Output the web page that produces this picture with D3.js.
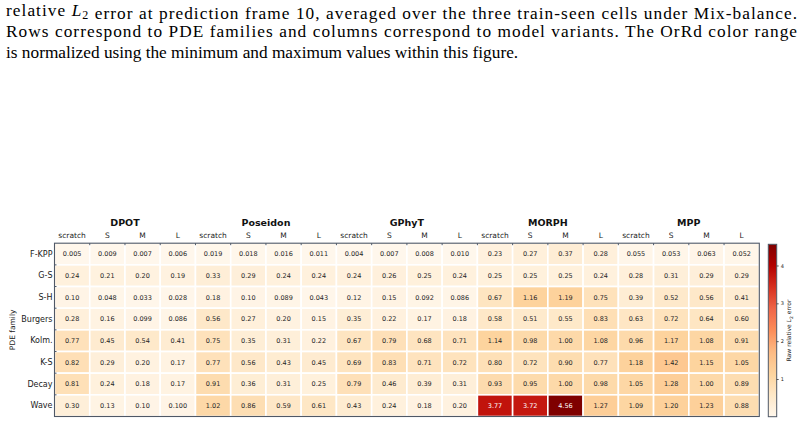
<!DOCTYPE html>
<html><head><meta charset="utf-8">
<script src="https://cdn.jsdelivr.net/npm/d3@7"></script>
<style>body{margin:0;background:#fff}svg{display:block}</style>
</head><body>
<svg id="c" width="804" height="423"></svg>
<script>
const groups = ["DPOT","Poseidon","GPhyT","MORPH","MPP"];
const variants = ["scratch","S","M","L"];
const rows = ["F-KPP","G-S","S-H","Burgers","Kolm.","K-S","Decay","Wave"];
const dpot = [[0.005,0.009,0.007,0.006],[0.24,0.21,0.20,0.19],[0.10,0.048,0.033,0.028],[0.28,0.16,0.099,0.086],[0.77,0.45,0.54,0.41],[0.82,0.29,0.20,0.17],[0.81,0.24,0.18,0.17],[0.30,0.13,0.10,0.0998]];
const poseidon = [[0.019,0.018,0.016,0.011],[0.33,0.29,0.24,0.24],[0.18,0.10,0.089,0.043],[0.56,0.27,0.20,0.15],[0.75,0.35,0.31,0.22],[0.77,0.56,0.43,0.45],[0.91,0.36,0.31,0.25],[1.02,0.86,0.59,0.61]];
const gphyt = [[0.004,0.007,0.008,0.010],[0.24,0.26,0.25,0.24],[0.12,0.15,0.092,0.086],[0.35,0.22,0.17,0.18],[0.67,0.79,0.68,0.71],[0.69,0.83,0.71,0.72],[0.79,0.46,0.39,0.31],[0.43,0.24,0.18,0.20]];
const morph = [[0.23,0.27,0.37,0.28],[0.25,0.25,0.25,0.24],[0.67,1.16,1.19,0.75],[0.58,0.51,0.55,0.83],[1.14,0.98,1.00,1.08],[0.80,0.72,0.90,0.77],[0.93,0.95,1.00,0.98],[3.77,3.72,4.56,1.27]];
const mpp = [[0.055,0.053,0.063,0.052],[0.28,0.31,0.29,0.29],[0.39,0.52,0.56,0.41],[0.63,0.72,0.64,0.60],[0.96,1.17,1.08,0.91],[1.18,1.42,1.15,1.05],[1.05,1.28,1.00,0.89],[1.09,1.20,1.23,0.88]];
const cbTicks = [1,2,3,4];
const captionLines = [
  ["relative ", {i:"L"}, {s:"2"}, " error at prediction frame 10, averaged over the three train-seen cells under Mix-balance."],
  ["Rows correspond to PDE families and columns correspond to model variants. The OrRd color range"],
  ["is normalized using the minimum and maximum values within this figure."]
];

const blocks = [dpot, poseidon, gphyt, morph, mpp];
const cols = [];
groups.forEach(g => variants.forEach(v => cols.push(g + "|" + v)));
const cells = [];
rows.forEach((r, ri) => {
  blocks.forEach((b, gi) => {
    b[ri].forEach((val, vi) => cells.push({row: r, col: groups[gi] + "|" + variants[vi], v: val}));
  });
});
const allVals = cells.map(d => d.v);
const vmin = d3.min(allVals), vmax = d3.max(allVals);

const svg = d3.select("#c");
// caption
const cap = svg.append("g").attr("font-family", "'Liberation Serif','Times New Roman',serif").attr("font-size", 17.3).attr("fill", "#000");
const baselines = [16, 37, 57.5];
captionLines.forEach((parts, li) => {
  const t = cap.append("text").attr("x", 6).attr("y", baselines[li]);
  if (li < 2) t.attr("textLength", 791).attr("lengthAdjust", "spacing");
  parts.forEach(p => {
    if (typeof p === "string") t.append("tspan").text(p);
    else if (p.i) t.append("tspan").attr("font-style", "italic").text(p.i);
    else if (p.s) { t.append("tspan").attr("font-size", 12).attr("dy", 3).text(p.s); t.append("tspan").attr("dy", -3).text(""); }
  });
});

const X0 = 54.5, X1 = 759.3, Y0 = 243.2, Y1 = 416.5;
const x = d3.scaleBand().domain(cols).range([X0, X1]);
const y = d3.scaleBand().domain(rows).range([Y0, Y1]);
const stops = ["#fff7ec","#fee8c8","#fdd49e","#fdbb84","#fc8d59","#ef6548","#d7301f","#b30000","#7f0000"];
const color = d3.scaleLinear().domain(stops.map((_, i) => vmin + (vmax - vmin) * i / (stops.length - 1))).range(stops).interpolate(d3.interpolateRgb).clamp(true);
const fmt = v => v < 0.1 ? v.toFixed(3) : v.toFixed(2);

const font = "'DejaVu Sans', sans-serif";
const g = svg.append("g").attr("font-family", font);
g.selectAll("rect.cell").data(cells).join("rect").attr("class", "cell")
  .attr("x", d => x(d.col)).attr("y", d => y(d.row))
  .attr("width", x.bandwidth()).attr("height", y.bandwidth())
  .attr("fill", d => color(d.v)).attr("stroke", "#fff").attr("stroke-width", 1.6);
g.selectAll("text.val").data(cells).join("text").attr("class", "val")
  .attr("x", d => x(d.col) + x.bandwidth() / 2).attr("y", d => y(d.row) + y.bandwidth() / 2)
  .attr("dy", "0.35em").attr("text-anchor", "middle").attr("font-size", 6.5)
  .attr("fill", d => (d.v - vmin) / (vmax - vmin) > 0.6 ? "#fff" : "#262626")
  .text(d => fmt(d.v));
// frame
g.append("rect").attr("x", X0).attr("y", Y0).attr("width", X1 - X0).attr("height", Y1 - Y0)
  .attr("fill", "none").attr("stroke", "#4f5866").attr("stroke-width", 1.1);
// boundary ticks
g.selectAll("line.tt").data(cols.slice(1)).join("line").attr("class", "tt")
  .attr("x1", d => x(d)).attr("x2", d => x(d)).attr("y1", Y0).attr("y2", Y0 + 2)
  .attr("stroke", "#4f5866").attr("stroke-width", 1);
g.selectAll("line.lt").data(rows.slice(1)).join("line").attr("class", "lt")
  .attr("y1", d => y(d)).attr("y2", d => y(d)).attr("x1", X0).attr("x2", X0 + 2)
  .attr("stroke", "#4f5866").attr("stroke-width", 1);
// column labels
g.selectAll("text.cl").data(cols).join("text").attr("class", "cl")
  .attr("x", d => x(d) + x.bandwidth() / 2).attr("y", 238).attr("text-anchor", "middle")
  .attr("font-size", 7.5).attr("fill", "#222").text(d => d.split("|")[1]);
// group labels
g.selectAll("text.gl").data(groups).join("text").attr("class", "gl")
  .attr("x", d => x(d + "|S") + x.bandwidth()).attr("y", 226).attr("text-anchor", "middle")
  .attr("font-size", 9.5).attr("font-weight", "bold").attr("fill", "#111").text(d => d);
// row labels
g.selectAll("text.rl").data(rows).join("text").attr("class", "rl")
  .attr("x", X0 - 2).attr("y", d => y(d) + y.bandwidth() / 2).attr("dy", "0.35em").attr("text-anchor", "end")
  .attr("font-size", 8).attr("fill", "#222").text(d => d);
g.append("text").attr("transform", `translate(15,${(Y0 + Y1) / 2}) rotate(-90)`).attr("text-anchor", "middle")
  .attr("font-size", 7.5).attr("fill", "#222").text("PDE family");

// colorbar
const CX0 = 768.3, CX1 = 776.7, CY0 = 244.3, CY1 = 416.7;
const cy = d3.scaleLinear().domain([vmin, vmax]).range([CY1, CY0]);
const defs = svg.append("defs");
const lg = defs.append("linearGradient").attr("id", "cbg").attr("x1", 0).attr("y1", 1).attr("x2", 0).attr("y2", 0);
d3.range(0, 1.0001, 0.02).forEach(t => lg.append("stop").attr("offset", t).attr("stop-color", color(vmin + t * (vmax - vmin))));
g.append("rect").attr("x", CX0).attr("y", CY0).attr("width", CX1 - CX0).attr("height", CY1 - CY0)
  .attr("fill", "url(#cbg)").attr("stroke", "#4f5866").attr("stroke-width", 1);
const cbAxis = d3.axisRight(cy).tickValues(cbTicks).tickSize(2).tickPadding(2).tickFormat(d3.format("d"));
const ax = g.append("g").attr("transform", `translate(${CX1},0)`).call(cbAxis);
ax.select(".domain").remove();
ax.selectAll("text").attr("font-size", 5).attr("font-family", font).attr("fill", "#222");
ax.selectAll("line").attr("stroke", "#333").attr("stroke-width", 0.8);
const cl = g.append("text").attr("transform", `translate(791,${(CY0 + CY1) / 2}) rotate(-90)`).attr("text-anchor", "middle")
  .attr("font-size", 6).attr("fill", "#222");
cl.append("tspan").text("Raw relative ");
cl.append("tspan").attr("font-style", "italic").text("L");
cl.append("tspan").attr("font-size", 4.5).attr("dy", 1.5).text("2");
cl.append("tspan").attr("dy", -1.5).text(" error");
</script>
</body></html>
